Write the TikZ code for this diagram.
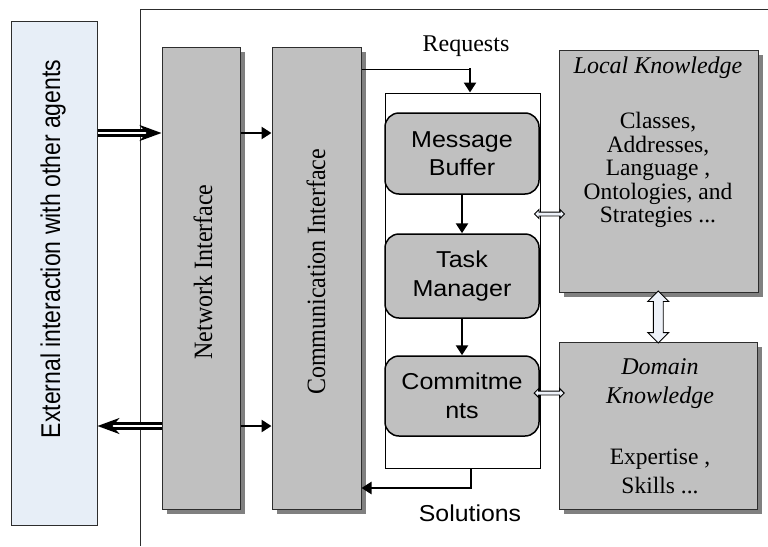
\documentclass[tikz,border=0pt]{standalone}
\usepackage{fontspec}
\setmainfont{Liberation Serif}
\newfontfamily\arialf{Liberation Sans}
\usetikzlibrary{arrows.meta,shapes.arrows,shadows,calc}
\definecolor{boxgray}{RGB}{192,192,192}
\definecolor{shadowgray}{RGB}{128,128,128}
\definecolor{extblue}{RGB}{231,238,247}
\definecolor{arrowfill}{RGB}{238,242,249}
\definecolor{edgegray}{RGB}{45,45,45}
\newcommand\wx[1]{\scalebox{1.09}[1]{#1}}
\begin{document}
\begin{tikzpicture}[x=1pt,y=-1pt,
  panel/.style={draw=edgegray, line width=1pt, fill=boxgray, inner sep=0pt,
    drop shadow={shadow xshift=5pt, shadow yshift=-5pt, fill=shadowgray, opacity=1}},
  roundbox/.style={draw=black, line width=1.5pt, fill=boxgray, rounded corners=14pt,
    inner sep=0pt, minimum width=154pt, align=center,
    font=\arialf\fontsize{23}{28.5}\selectfont},
  sertext/.style={font=\fontsize{24}{29}\selectfont, align=center, inner sep=0pt},
  bodytext/.style={font=\fontsize{23.5}{23.5}\selectfont, align=center, inner sep=0pt},
  dblarrow/.style={draw=black, line width=2.6pt, double=white, double distance=2.4pt,
    -{Stealth[length=22pt,width=16pt,inset=7pt]}},
  thickarrow/.style={draw=black, line width=2.8pt, -{Triangle[length=10pt,width=12pt]}},
  thinline/.style={draw=black, line width=1pt},
  blockarrow/.style={double arrow, draw=black, line width=0.9pt, fill=arrowfill, inner sep=1.5pt,
    double arrow head extend=2.5pt, double arrow tip angle=90},
]
\useasboundingbox (0,0) rectangle (768,546);
% outer frame
\coordinate (fa) at (140,546);
\coordinate (fb) at (140,9);
\coordinate (fc) at (768,9);
\draw[draw=edgegray, line width=1pt] (fa) -- (fb) -- (fc);

% boxes
\node[draw=edgegray, line width=1pt, fill=extblue, minimum width=86pt, minimum height=504pt, inner sep=0pt] (ext) at (54,273) {};
\node[panel, minimum width=78pt, minimum height=462pt] (net) at (201,278) {};
\node[panel, minimum width=89pt, minimum height=462pt] (comm) at (316.5,278) {};
\node[draw=black, line width=1pt, fill=white, minimum width=155pt, minimum height=375pt, inner sep=0pt] (inner) at (462.5,280.5) {};
\node[roundbox, minimum height=81pt] (mb) at (462,153.5) {\wx{Message}\\\wx{Buffer}};
\node[roundbox, minimum height=84pt] (tm) at (462,276) {\wx{Task}\\\wx{Manager}};
\node[roundbox, minimum height=80pt] (cm) at (462,396) {\wx{Commitme}\\\wx{nts}};
\node[panel, minimum width=199pt, minimum height=242pt] (lk) at (658.5,171) {};
\node[panel, minimum width=198pt, minimum height=167pt] (dk) at (658,425.5) {};

% texts
\node[rotate=90, inner sep=0pt, font=\arialf\fontsize{23}{27}\selectfont] (exttext) at (53,249) {\scalebox{1}[1.18]{External interaction with other agents}};
\node[rotate=90, sertext] (nettext) at (203,272) {\scalebox{1}[1.1]{Network Interface}};
\node[rotate=90, sertext] (commtext) at (316,272) {\scalebox{1}[1.1]{Communication Interface}};
\node[sertext, font=\itshape\fontsize{24}{29}\selectfont] (lktitle) at (658,68) {Local Knowledge};
\node[bodytext] (lkbody) at (658,170) {Classes,\\Addresses,\\Language ,\\Ontologies, and\\Strategies ...};
\node[sertext, font=\itshape\fontsize{24}{29}\selectfont] (dktitle) at (660,384) {Domain\\Knowledge};
\node[sertext, font=\fontsize{23.5}{29}\selectfont] (dkbody) at (660,471) {Expertise ,\\Skills ...};
\node[sertext] (reqtext) at (466,46) {Requests};
\node[inner sep=0pt, font=\arialf\fontsize{23}{27}\selectfont] (soltext) at (470,513) {\scalebox{1.08}[1]{Solutions}};

% connectors
\coordinate (r1) at (0,133);
\coordinate (r2) at (0,426);
\draw[dblarrow] (ext.east |- r1) -- (net.west |- r1);
\draw[dblarrow] (net.west |- r2) -- (ext.east |- r2);
\draw[thickarrow] (net.east |- r1) -- (comm.west |- r1);
\draw[thickarrow] (net.east |- r2) -- (comm.west |- r2);

\coordinate (rq) at (470,69);
\draw[thinline] (comm.east |- rq) -- (rq);
\draw[thickarrow] ([yshift=1pt]rq) -- (rq |- inner.north);

\coordinate (sl) at (471,488);
\draw[thickarrow] (sl |- inner.south) -- (sl) -- (comm.east |- sl);

\draw[thickarrow] (mb.south) -- (tm.north);
\draw[thickarrow] (tm.south) -- (cm.north);

% block double arrows
\coordinate (y1) at (0,214);
\coordinate (y2) at (0,393);
\node[blockarrow, minimum height=30pt] (ba1) at ($(inner.east |- y1)!0.5!(lk.west |- y1)$) {};
\node[blockarrow, minimum height=30pt] (ba2) at ($(cm.east |- y2)!0.5!(dk.west |- y2)$) {};
\node[blockarrow, inner sep=4.5pt, double arrow head extend=5.5pt, shape border rotate=90, minimum height=52pt] (ba3) at ($(lk.south)!0.5!(dk.north)$) {};
\end{tikzpicture}
\end{document}
